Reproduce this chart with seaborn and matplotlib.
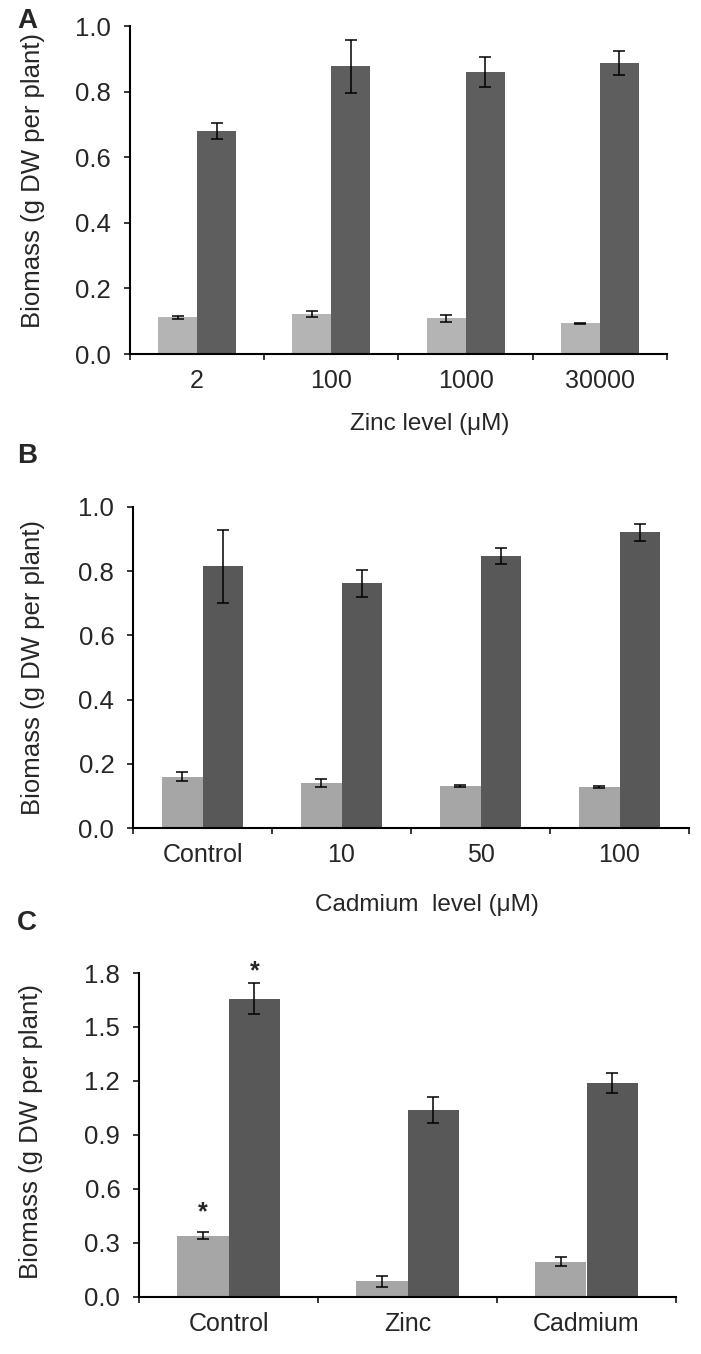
#!/usr/bin/env python3

import numpy as np
import pandas as pd
import seaborn as sns
import matplotlib.pyplot as plt
from matplotlib.ticker import FormatStrFormatter

sns.set_theme(style="ticks")
plt.rcParams['font.family'] = ['Liberation Sans', 'DejaVu Sans']

# Panel A - zinc levels
zinc_levels = ["2", "100", "1000", "30000"]
zinc_root = [0.112, 0.122, 0.109, 0.094]
zinc_root_err = [0.005, 0.009, 0.011, 0.002]
zinc_shoot = [0.680, 0.877, 0.860, 0.888]
zinc_shoot_err = [0.025, 0.080, 0.047, 0.036]

# Panel B - cadmium levels
cd_levels = ["Control", "10", "50", "100"]
cd_root = [0.159, 0.141, 0.131, 0.127]
cd_root_err = [0.014, 0.013, 0.004, 0.003]
cd_shoot = [0.815, 0.762, 0.847, 0.921]
cd_shoot_err = [0.114, 0.041, 0.024, 0.026]

# Panel C - treatments
treatments = ["Control", "Zinc", "Cadmium"]
tr_root = [0.340, 0.087, 0.197]
tr_root_err = [0.019, 0.031, 0.026]
tr_shoot = [1.657, 1.039, 1.188]
tr_shoot_err = [0.087, 0.070, 0.056]
starred = {("Root", "Control"): 6, ("Shoot", "Control"): 0}


def long_table(cats, root, root_err, shoot, shoot_err):
    rows = []
    for c, v, e in zip(cats, root, root_err):
        rows.append({"cat": c, "tissue": "Root", "biomass": v, "err": e})
    for c, v, e in zip(cats, shoot, shoot_err):
        rows.append({"cat": c, "tissue": "Shoot", "biomass": v, "err": e})
    return pd.DataFrame(rows)


def panel(ax, df, cats, colors, ymax, ystep, xlabel=None, stars={}):
    sns.barplot(data=df, x="cat", y="biomass", hue="tissue", order=cats,
                hue_order=["Root", "Shoot"], palette=colors, width=0.58,
                gap=0, saturation=1, errorbar=None, legend=False,
                linewidth=0, ax=ax)

    for tissue, cont in zip(["Root", "Shoot"], ax.containers):
        sub = df[df.tissue == tissue].set_index("cat").loc[cats]
        xs = [p.get_x() + p.get_width() / 2 for p in cont.patches]
        ax.errorbar(xs, sub.biomass, yerr=sub.err, fmt="none",
                    ecolor="black", elinewidth=1.1, capsize=4.3,
                    capthick=1.1, zorder=3)
        for x, c in zip(xs, cats):
            if (tissue, c) in stars:
                top = sub.loc[c, "biomass"] + sub.loc[c, "err"]
                ax.annotate("*", (x, top), xytext=(0, stars[(tissue, c)]),
                            textcoords="offset points", ha="center",
                            va="bottom", fontsize=18, fontweight="bold")

    n = len(cats)
    ax.set_xlim(-0.5, n - 0.5)
    ax.set_ylim(0, ymax)
    ax.set_yticks(np.arange(0, ymax + ystep / 2, ystep))
    ax.yaxis.set_major_formatter(FormatStrFormatter("%.1f"))
    ax.set_xticks(range(n), cats)
    ax.set_xticks(np.arange(n + 1) - 0.5, minor=True)
    ax.tick_params(axis="x", which="major", length=0, pad=11, labelsize=18)
    ax.tick_params(axis="x", which="minor", length=4.5, width=1.3,
                   direction="out")
    ax.tick_params(axis="y", length=4.5, width=1.3, pad=9, labelsize=18.5,
                   direction="out")
    for s in ["top", "right"]:
        ax.spines[s].set_visible(False)
    for s in ["left", "bottom"]:
        ax.spines[s].set_linewidth(1.5)
        ax.spines[s].set_color("black")
    ax.set_ylabel("Biomass (g DW per plant)", fontsize=18.5)
    if xlabel:
        ax.set_xlabel(xlabel, fontsize=17.5)
    else:
        ax.set_xlabel("")


fig = plt.figure(figsize=(7.01, 13.54), dpi=100)
W, H = 701, 1354


def box(x0, x1, ytop, ybot):
    return [x0 / W, 1 - ybot / H, (x1 - x0) / W, (ybot - ytop) / H]


ax_a = fig.add_axes(box(130, 667, 26, 354))
ax_b = fig.add_axes(box(133, 689, 507, 828))
ax_c = fig.add_axes(box(139, 676, 973, 1297))

panel(ax_a, long_table(zinc_levels, zinc_root, zinc_root_err,
                       zinc_shoot, zinc_shoot_err),
      zinc_levels, ["#b4b4b4", "#5e5e5e"], 1.0, 0.2, "Zinc level (\u03bcM)")
panel(ax_b, long_table(cd_levels, cd_root, cd_root_err,
                       cd_shoot, cd_shoot_err),
      cd_levels, ["#a6a6a6", "#585858"], 1.0, 0.2, "Cadmium  level (\u03bcM)")
panel(ax_c, long_table(treatments, tr_root, tr_root_err,
                       tr_shoot, tr_shoot_err),
      treatments, ["#a6a6a6", "#585858"], 1.8, 0.3, stars=starred)

ax_a.xaxis.set_label_coords(0.559, -0.18)
ax_b.xaxis.set_label_coords(0.528, -0.205)
ax_a.yaxis.set_label_coords(-0.158, 0.53)
ax_b.yaxis.set_label_coords(-0.158, 0.5)
ax_c.yaxis.set_label_coords(-0.179, 0.51)

for letter, y in [("A", 21), ("B", 456), ("C", 923)]:
    fig.text(27 / W, 1 - y / H, letter, fontsize=20, fontweight="bold",
             ha="center", va="center")

fig.savefig("out.png", dpi=100)
